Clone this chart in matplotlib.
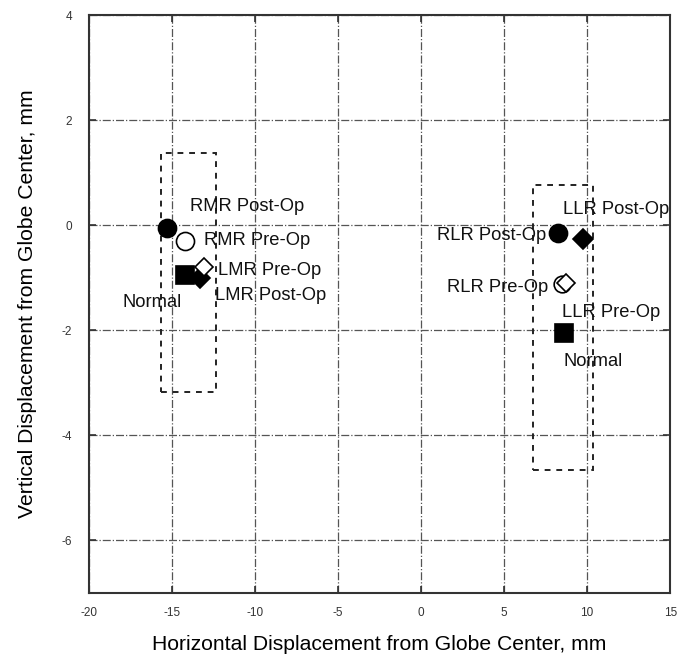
import matplotlib
matplotlib.use("Agg")
import matplotlib.pyplot as plt
from matplotlib.patches import Rectangle

plt.rcParams["font.family"] = ["Liberation Sans", "DejaVu Sans"]
plt.rcParams["axes.unicode_minus"] = False

# marker data (mm)
names = ["Normal L", "RMR Post-Op", "RMR Pre-Op", "LMR Post-Op", "LMR Pre-Op",
         "Normal R", "RLR Post-Op", "LLR Post-Op", "RLR Pre-Op", "LLR Pre-Op"]
x_pos = [-14.2, -15.3, -14.2, -13.3, -13.1, 8.6, 8.25, 9.76, 8.5, 8.75]
y_pos = [-0.95, -0.05, -0.3, -1.0, -0.8, -2.05, -0.15, -0.27, -1.12, -1.1]
markers = ["s", "o", "o", "D", "D", "s", "o", "D", "o", "D"]
filled = [True, True, False, True, False, True, True, True, False, False]
sizes = [13, 13, 13, 10, 9, 13, 13, 10, 12, 9]

# text labels
label_text = ["RMR Post-Op", "RMR Pre-Op", "LMR Pre-Op", "LMR Post-Op", "Normal",
              "RLR Post-Op", "LLR Post-Op", "RLR Pre-Op", "LLR Pre-Op", "Normal"]
label_x = [-13.9, -13.07, -12.2, -12.4, -18.0, 0.96, 8.55, 1.57, 8.5, 8.55]
label_y = [0.36, -0.29, -0.86, -1.33, -1.47, -0.19, 0.3, -1.18, -1.66, -2.6]

# dashed boxes: (x0, y0, x1, y1)
boxes = [(-15.66, -3.18, -12.35, 1.37), (6.75, -4.67, 10.36, 0.76)]

fig = plt.figure(figsize=(6.79, 6.63), dpi=100)
ax = fig.add_axes([0.131, 0.106, 0.856, 0.871])

ax.set_xlim(-20, 15)
ax.set_ylim(-7, 4)
ax.set_xticks(range(-20, 16, 5))
ax.set_yticks(range(-6, 5, 2))
ax.grid(True, linestyle="-.", color="#555555", lw=0.9)
ax.set_axisbelow(True)

for x0, y0, x1, y1 in boxes:
    ax.add_patch(Rectangle((x0, y0), x1 - x0, y1 - y0, fill=False,
                           linestyle=(0, (3, 3)), edgecolor="#222222", lw=1.4))

for x, y, m, f, s in zip(x_pos, y_pos, markers, filled, sizes):
    ax.plot(x, y, marker=m, markersize=s, color="black",
            markerfacecolor="black" if f else "white",
            markeredgewidth=1.2, linestyle="none", zorder=5)

for t, x, y in zip(label_text, label_x, label_y):
    ax.text(x, y, t, fontsize=13.2, va="center", ha="left", color="#111111", zorder=6)

for s in ax.spines.values():
    s.set_linewidth(1.5)
    s.set_color("#333333")
ax.tick_params(direction="in", length=5, width=1.2, top=True, right=True,
               labelsize=8.5, colors="#333333")
ax.tick_params(axis="x", pad=10)
ax.tick_params(axis="y", pad=12)

ax.set_xlabel("Horizontal Displacement from Globe Center, mm", fontsize=15.2, labelpad=12)
ax.set_ylabel("Vertical Displacement from Globe Center, mm", fontsize=15.2, labelpad=18)

fig.savefig("out.png", dpi=100)
